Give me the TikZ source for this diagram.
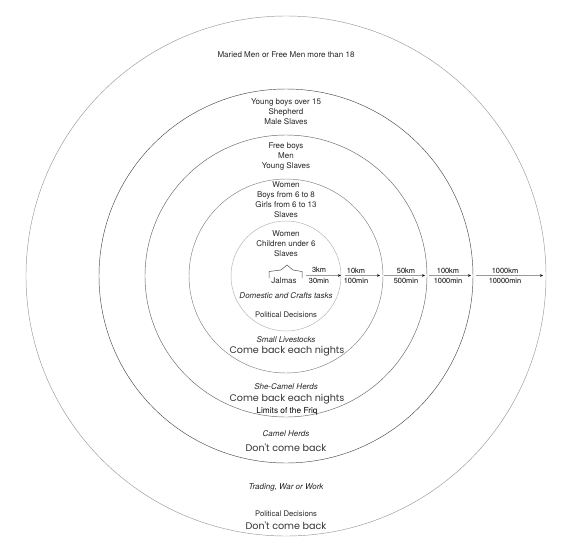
\documentclass[tikz,border=0pt]{standalone}
\usepackage{fontspec}
\setmainfont{TeX Gyre Heros}
\newfontfamily\widefont{Poppins}
\usetikzlibrary{arrows.meta}
\begin{document}
\begin{tikzpicture}[x=1pt,y=-1pt,
  ring/.style={line width=0.45pt},
  lbl/.style={inner sep=0pt, align=center, text=black!85, font=\fontsize{8}{10}\selectfont},
  itl/.style={lbl, font=\fontsize{8}{10}\selectfont\itshape},
  big/.style={inner sep=0pt, text=black!80, font=\fontsize{9.6}{11}\widefont},
  pol/.style={lbl, font=\fontsize{7.7}{10}\selectfont},
  dist/.style={inner sep=0pt, align=center, text=black, font=\fontsize{7.4}{10.3}\selectfont},
  reach/.style={draw=black!40, line width=0.5pt, -{Stealth[length=3pt,width=2.6pt,color=black]}}]
\useasboundingbox (0,0) rectangle (571,555);
\fill[white] (0,0) rectangle (571,555);
\coordinate (c) at (286,276);
% rings
\draw[ring, draw=black!40] (c) circle[radius=260];
\draw[ring, draw=black!70] (c) circle[radius=187];
\draw[ring, draw=black!60] (c) circle[radius=141];
\draw[ring, draw=black!50] (c) circle[radius=97];
\draw[ring, draw=black!30] (c) circle[radius=55];
% top labels
\node[lbl] (m18) at (286,54.5) {Maried Men or Free Men more than 18};
\node[lbl] (yb) at (286,112) {Young boys over 15\\Shepherd\\Male Slaves};
\node[lbl] (fb) at (286,156) {Free boys\\Men\\Young Slaves};
\node[lbl] (wb) at (286,200) {Women\\Boys from 6 to 8\\Girls from 6 to 13\\Slaves};
\node[lbl] (wc) at (286,244) {Women\\Children under 6\\Slaves};
% jalmas tent
\draw[black!70, line width=0.5pt] (269,278) -- (269,271.5) -- (281,270) -- (287,265) -- (293,270) -- (302,271.5) -- (302,278);
\node[lbl] (jal) at (284,281) {Jalmas};
\node[itl] (dom) at (286,295.5) {Domestic and Crafts tasks};
\node[pol] (pd1) at (286,314.5) {Political Decisions};
% lower labels
\node[itl] (sl) at (286,340) {Small Livestocks};
\node[big] (cb1) at (287,351.5) {Come back each nights};
\node[itl] (sc) at (286,387) {She-Camel Herds};
\node[big] (cb2) at (287,399.5) {Come back each nights};
\node[lbl, text=black, font=\fontsize{8.3}{10}\selectfont] (fr) at (287,411) {Limits of the Friq};
\node[itl] (ch) at (286,434) {Camel Herds};
\node[big] (dc1) at (286,448) {Don't come back};
\node[itl] (tw) at (286,487.5) {Trading, War or Work};
\node[pol] (pd2) at (286,514) {Political Decisions};
\node[big] (dc2) at (286,526) {Don't come back};
% distance arrows
\coordinate (a0s) at (306,275.5); \coordinate (a0e) at (341,275.5);
\coordinate (a1s) at (345,275.5); \coordinate (a1e) at (380,275.5);
\coordinate (a2s) at (384,275.5); \coordinate (a2e) at (425,275.5);
\coordinate (a3s) at (429,275.5); \coordinate (a3e) at (471,275.5);
\coordinate (a4s) at (476,275.5); \coordinate (a4e) at (543,275.5);
\draw[reach] (a0s) -- (a0e);
\draw[reach] (a1s) -- (a1e);
\draw[reach] (a2s) -- (a2e);
\draw[reach] (a3s) -- (a3e);
\draw[reach] (a4s) -- (a4e);
\node[dist] (d0) at (319,275.3) {3km\\30min};
\node[dist] (d1) at (356,275.8) {10km\\100min};
\node[dist] (d2) at (406,275.8) {50km\\500min};
\node[dist] (d3) at (448,275.8) {100km\\1000min};
\node[dist] (d4) at (505,275.8) {1000km\\10000min};
\end{tikzpicture}
\end{document}
